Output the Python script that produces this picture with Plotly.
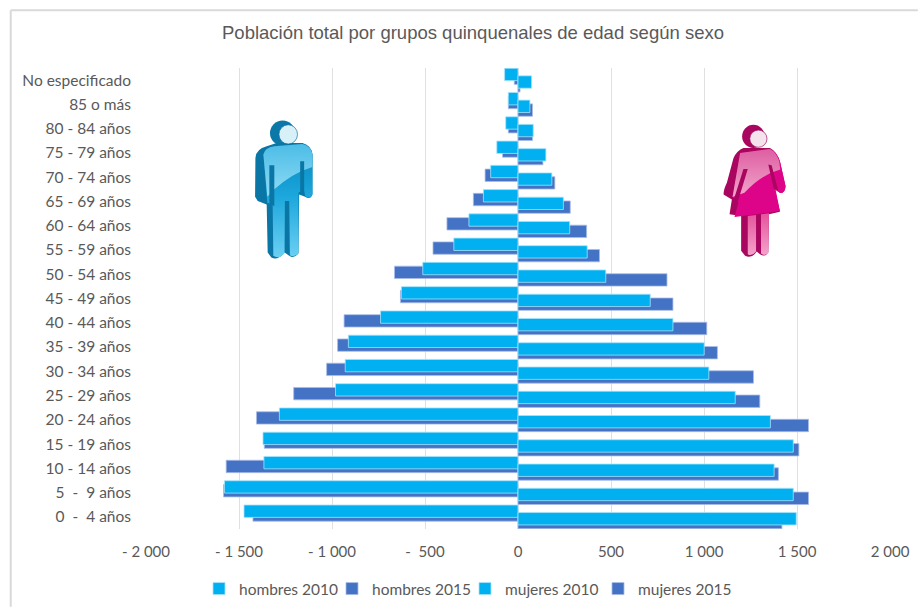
import base64
import plotly.graph_objects as go

grupos = ["No especificado", "85 o más", "80 - 84 años", "75 - 79 años", "70 - 74 años",
          "65 - 69 años", "60 - 64 años", "55 - 59 años", "50 - 54 años", "45 - 49 años",
          "40 - 44 años", "35 - 39 años", "30 - 34 años", "25 - 29 años", "20 - 24 años",
          "15 - 19 años", "10 - 14 años", "5  -  9 años", "0  -  4 años"]
hombres_2010 = [72, 52, 66, 114, 147, 186, 264, 345, 512, 627, 739, 912, 929, 981, 1283, 1371, 1366, 1578, 1473]
hombres_2015 = [20, 52, 52, 83, 177, 240, 382, 457, 664, 632, 935, 970, 1029, 1206, 1406, 1364, 1569, 1583, 1425]
mujeres_2010 = [73, 64, 82, 150, 182, 244, 278, 372, 472, 711, 833, 1001, 1026, 1168, 1357, 1480, 1377, 1480, 1496]
mujeres_2015 = [11, 78, 78, 134, 198, 281, 369, 438, 801, 833, 1015, 1072, 1266, 1300, 1562, 1510, 1400, 1562, 1419]
ticks_x = [-2000, -1500, -1000, -500, 0, 500, 1000, 1500, 2000]
ticks_txt = ["- 2 000", "- 1 500", "- 1 000", "-  500", "0", "500", "1 000", "1 500", "2 000"]

CYAN, BLUE = "#00B0F0", "#4472C4"
FONT = "Lato"
W, H = 922, 609
L, R, T, B = 146, 894, 68, 531


def px(x):
    return (x - L) / (R - L)


def py(y):
    return 1 - (y - T) / (B - T)


def uri(svg):
    return "data:image/svg+xml;base64," + base64.b64encode(svg.encode()).decode()


MAN = """<svg xmlns="http://www.w3.org/2000/svg" width="270" height="480" viewBox="0 0 270 480">
<defs><linearGradient id="a" x1="0" y1="0" x2="0" y2="1"><stop offset="0" stop-color="#0587bb"/><stop offset=".45" stop-color="#1ba6dc"/><stop offset="1" stop-color="#6bd0f3"/></linearGradient>
<linearGradient id="g" x1="0" y1="0" x2="0" y2="1"><stop offset="0" stop-color="#4cbce6"/><stop offset="1" stop-color="#8fdcf5"/></linearGradient></defs>
<ellipse cx="130" cy="70" rx="38" ry="38" fill="#0b78a8"/>
<path fill="#0a76a6" d="M48 145Q50 118 82 110L112 100L190 100Q218 108 220 135L220 255Q214 272 198 262L180 255L178 432Q165 450 150 440L136 430Q116 455 96 445L85 430L82 285L55 275L47 262Z"/>
<path fill="url(#a)" d="M72 135Q76 114 106 110L190 103Q217 110 220 135L220 255Q213 270 198 260L194 240L178 250L178 432Q165 446 152 438L150 275L137 275L136 432Q118 452 102 440L100 285L84 280Z"/>
<path fill="url(#g)" d="M72 135Q76 114 106 110L190 103Q217 110 220 135L220 172Q160 190 104 240L84 262Z"/>
<path fill="#0a76a6" d="M90 167L105 167L105 290L90 283ZM183 155L195 155L195 252L183 255Z"/>
<ellipse cx="147" cy="74" rx="28" ry="29" fill="#d8f0f8" stroke="#0a6f9d" stroke-width="2"/>
</svg>"""

WOMAN = """<svg xmlns="http://www.w3.org/2000/svg" width="270" height="465" viewBox="0 0 270 465">
<defs><linearGradient id="g" x1="0" y1="0" x2="0" y2="1"><stop offset="0" stop-color="#dd5fa2"/><stop offset="1" stop-color="#f2a5cb"/></linearGradient>
<linearGradient id="l" x1="0" y1="0" x2="0" y2="1"><stop offset="0" stop-color="#e5539c"/><stop offset="1" stop-color="#f4a3cb"/></linearGradient></defs>
<ellipse cx="125" cy="65" rx="34" ry="35" fill="#a9065f"/>
<path fill="#a9065f" d="M95 100L175 100Q195 110 205 140L222 215Q220 238 205 235L190 225L205 292L172 300L170 415Q160 430 145 420L135 412Q120 435 100 425L88 410L88 305L53 300L60 255L35 240Q35 225 45 205L65 130Q75 108 95 100Z"/>
<path fill="#de048a" d="M85 115L175 103Q195 110 205 140L222 215Q220 238 205 235L192 226L205 290L68 308L80 265L62 248Z"/>
<path fill="url(#g)" d="M85 115L175 103Q193 110 203 140L206 165Q150 180 98 235L62 248Z"/>
<path fill="url(#l)" d="M108 305L133 302L133 412Q120 428 108 420ZM148 300L172 297L170 415Q160 428 148 418Z"/>
<path fill="#a9065f" d="M95 163L108 163L78 262L66 255ZM170 150L180 152L200 228L186 222Z"/>
<circle cx="140" cy="72" r="26" fill="#f4e2ec" stroke="#9d0558" stroke-width="2"/>
</svg>"""

ALTO = 0.51
series = [
    ("hombres 2015", [-v for v in hombres_2015], BLUE, "#A9BDE6", -0.333, 2),
    ("hombres 2010", [-v for v in hombres_2010], CYAN, "#A6E2FA", -0.489, 1),
    ("mujeres 2015", mujeres_2015, BLUE, "#A9BDE6", -0.021, 4),
    ("mujeres 2010", mujeres_2010, CYAN, "#A6E2FA", -0.177, 3),
]

fig = go.Figure()
for nombre, vals, color, borde, off, rango in series:
    fig.add_trace(go.Bar(
        name=nombre, y=grupos, x=vals, orientation="h", width=ALTO, offset=off,
        marker=dict(color=color, line=dict(color=borde, width=0.8)), legendrank=rango,
    ))

fig.update_layout(
    width=W, height=H, barmode="overlay", plot_bgcolor="white", paper_bgcolor="white",
    margin=dict(l=L, r=W - R, t=T, b=H - B),
    font=dict(family=FONT, color="#595959", size=14),
    title=dict(text="Población total por grupos quinquenales de edad según sexo", x=473 / W, xanchor="center",
               y=1 - 33 / H, yanchor="middle", font=dict(family="Liberation Sans", size=18.5, color="#595959")),
    xaxis=dict(range=[-2000, 2000], tickvals=ticks_x, ticktext=ticks_txt, showgrid=True,
               gridcolor="#E0E0E0", gridwidth=1.3, zeroline=False, showline=False, ticks="",
               ticklabelstandoff=12, tickfont=dict(size=15)),
    yaxis=dict(type="category", autorange="reversed", showgrid=False, zeroline=False, showline=False,
               ticks="", ticklabelstandoff=14, tickfont=dict(size=15.5)),
    legend=dict(orientation="h", x=199 / W, xanchor="left", xref="container",
                y=1 - 589 / H, yanchor="middle", yref="container",
                font=dict(size=15.5), entrywidth=88, entrywidthmode="pixels", traceorder="normal"),
    shapes=[
        dict(type="line", xref="paper", yref="paper", x0=px(10), x1=px(922), y0=py(10), y1=py(10),
             line=dict(color="#D9D9D9", width=2)),
        dict(type="line", xref="paper", yref="paper", x0=px(10), x1=px(10), y0=py(10), y1=py(609),
             line=dict(color="#D9D9D9", width=2)),
        dict(type="line", xref="paper", yref="paper", x0=px(520), x1=px(520), y0=0, y1=1,
             line=dict(color="#E0E0E0", width=1.3), layer="below"),
    ],
    images=[
        dict(source=uri(MAN), xref="paper", yref="paper", x=px(240), y=py(110), sizex=90 / (R - L),
             sizey=160 / (B - T), xanchor="left", yanchor="top", sizing="stretch", layer="above"),
        dict(source=uri(WOMAN), xref="paper", yref="paper", x=px(715), y=py(115), sizex=90 / (R - L),
             sizey=155 / (B - T), xanchor="left", yanchor="top", sizing="stretch", layer="above"),
    ],
)

fig.write_html("out.html", config={"displayModeBar": False}, post_script="document.body.style.margin='0';")
